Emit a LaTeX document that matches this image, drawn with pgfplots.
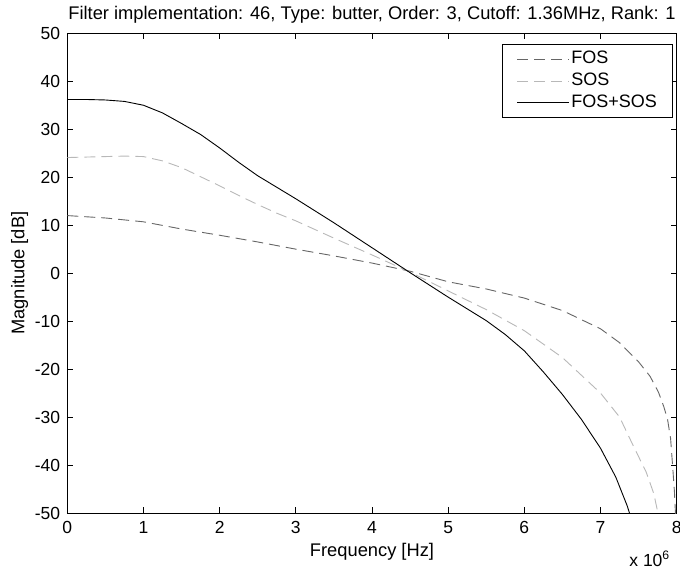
\documentclass[border=0pt]{standalone}
\usepackage{fontspec}
\setmainfont{Liberation Sans}
\usepackage{pgfplots}
\pgfplotsset{compat=1.18}
\definecolor{fosgray}{gray}{0.40}
\definecolor{sosgray}{gray}{0.72}

% Magnitude responses (frequency in Hz, magnitude in dB)
\pgfplotstableread{
f        db
0        12.0
500000   11.5
1000000  10.7
1500000  9.2
2000000  7.9
2500000  6.5
3000000  5.0
3500000  3.6
4000000  2.1
4500000  0.4
5000000  -1.8
5500000  -3.3
6000000  -5.2
6500000  -7.8
7000000  -11.6
7250000  -14.5
7500000  -18.5
7650000  -21.5
7760000  -24.8
7830000  -27.8
7880000  -30.5
7920000  -34.5
7950000  -41.0
7970000  -45.5
7985000  -50.5
}\fos
\pgfplotstableread{
f        db
0        24.1
250000   24.2
500000   24.3
750000   24.4
1000000  24.3
1250000  23.4
1500000  22.0
1750000  20.1
2000000  18.2
2250000  16.2
2500000  14.3
2750000  12.5
3000000  10.9
3500000  7.3
4000000  3.8
4500000  0.2
5000000  -3.7
5500000  -7.6
6000000  -12.0
6500000  -17.6
7000000  -25.0
7250000  -30.0
7430000  -36.0
7600000  -41.5
7700000  -46.0
7760000  -50.5
}\sos
\pgfplotstableread{
f        db
0        36.2
250000   36.2
500000   36.1
750000   35.8
1000000  35.0
1250000  33.4
1500000  31.2
1750000  28.9
2000000  26.1
2250000  23.1
2500000  20.3
2750000  17.9
3000000  15.5
3500000  10.5
4000000  5.3
4500000  0.1
5000000  -5.0
5500000  -9.9
5750000  -12.8
6000000  -16.2
6250000  -20.6
6500000  -25.3
6750000  -30.5
7000000  -36.5
7200000  -42.5
7350000  -48.5
7420000  -52.0
}\both

\begin{document}
\begin{tikzpicture}
\useasboundingbox (0,0) rectangle (680pt,571pt);
\begin{axis}[
  at={(67.3pt,58pt)}, anchor=south west,
  scale only axis, width=609.4pt, height=479.7pt,
  xmin=0, xmax=8000000, ymin=-50, ymax=50,
  xtick={0,1000000,2000000,3000000,4000000,5000000,6000000,7000000,8000000},
  xticklabels={0,1,2,3,4,5,6,7,8},
  scaled x ticks=false,
  ytick={-50,-40,-30,-20,-10,0,10,20,30,40,50},
  tick pos=both, tick align=inside, major tick length=6pt,
  axis line style={line width=0.8pt},
  major tick style={black, line width=0.8pt},
  /pgf/number format/assume math mode=true,
  ticklabel style={font=\fontsize{17.5}{19}\selectfont, inner sep=0pt},
  xticklabel style={anchor=base, yshift=-20.5pt},
  yticklabel style={anchor=east, xshift=-7pt},
  title={Filter implementation: 46, Type: butter, Order: 3, Cutoff: 1.36MHz, Rank: 1},
  title style={font=\fontsize{18.3}{20}\selectfont, at={(0.5,1)}, anchor=base, yshift=8pt, inner sep=0pt},
  xlabel={Frequency [Hz]}, ylabel={Magnitude [dB]},
  label style={font=\fontsize{18.3}{20}\selectfont},
  xlabel style={at={(rel axis cs:0.5,0)}, anchor=base, yshift=-43pt, inner sep=0pt},
  ylabel style={yshift=3pt},
  clip mode=individual,
  legend cell align=left,
  legend image code/.code={\draw[#1] (0pt,0pt) -- (52pt,0pt);},
  legend style={at={(rel axis cs:1,1)}, anchor=north east, xshift=-4pt, yshift=-10.7pt,
    draw=black, line width=0.8pt, font=\fontsize{18}{20}\selectfont,
    inner xsep=14pt, inner ysep=6.5pt, row sep=4.7pt,
    nodes={inner ysep=0pt, inner xsep=1.5pt, text height=13pt, text depth=4pt}},
]
\addplot[fosgray, line width=0.9pt, dash pattern=on 11pt off 6pt] table[x=f, y=db] {\fos};
\addlegendentry{FOS}
\addplot[sosgray, line width=0.9pt, dash pattern=on 11pt off 6pt] table[x=f, y=db] {\sos};
\addlegendentry{SOS}
\addplot[black, line width=0.9pt] table[x=f, y=db] {\both};
\addlegendentry{FOS+SOS}
\node[anchor=base east, font=\fontsize{17.5}{19}\selectfont, inner sep=0pt]
  at (rel axis cs:1,0) [yshift=-53pt, xshift=-6.7pt] {x 10\textsuperscript{6}};
\end{axis}
\end{tikzpicture}
\end{document}
